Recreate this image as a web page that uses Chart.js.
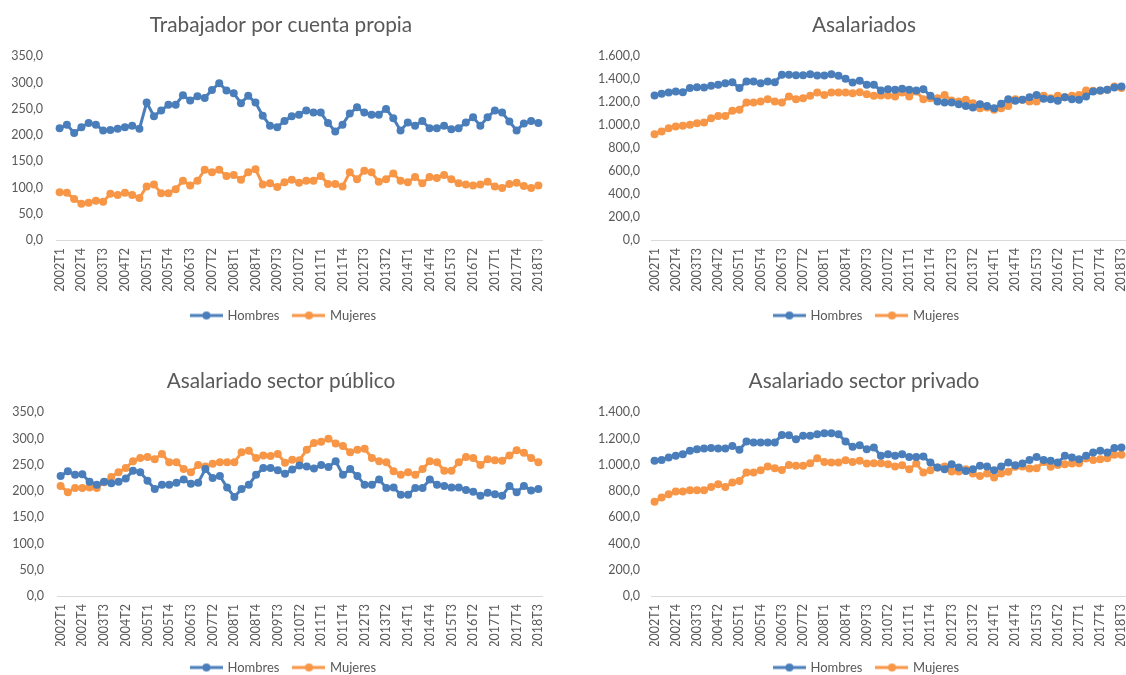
<!DOCTYPE html>
<html><head><meta charset="utf-8">
<script src="https://cdn.jsdelivr.net/npm/chart.js@4.4.0/dist/chart.umd.min.js"></script>
<style>
html,body{margin:0;padding:0;background:#fff;width:1126px;height:675px;overflow:hidden;position:relative}
.c{position:absolute;width:563px;height:337px}
</style></head><body>
<div class="c" style="left:0;top:0"><canvas id="c1" width="563" height="337"></canvas></div>
<div class="c" style="left:583px;top:0"><canvas id="c2" width="563" height="337"></canvas></div>
<div class="c" style="left:0;top:356px"><canvas id="c3" width="563" height="337"></canvas></div>
<div class="c" style="left:583px;top:356px"><canvas id="c4" width="563" height="337"></canvas></div>
<script>
const quarters = ["2002T1","2002T2","2002T3","2002T4","2003T1","2003T2","2003T3","2003T4","2004T1","2004T2","2004T3","2004T4","2005T1","2005T2","2005T3","2005T4","2006T1","2006T2","2006T3","2006T4","2007T1","2007T2","2007T3","2007T4","2008T1","2008T2","2008T3","2008T4","2009T1","2009T2","2009T3","2009T4","2010T1","2010T2","2010T3","2010T4","2011T1","2011T2","2011T3","2011T4","2012T1","2012T2","2012T3","2012T4","2013T1","2013T2","2013T3","2013T4","2014T1","2014T2","2014T3","2014T4","2015T1","2015T2","2015T3","2015T4","2016T1","2016T2","2016T3","2016T4","2017T1","2017T2","2017T3","2017T4","2018T1","2018T2","2018T3"];

const propiaHombres = [213,220,204,215,223,220,209,210,212,215,218,212,262,236,247,258,258,276,266,274,271,286,299,285,280,261,275,262,237,218,215,227,236,239,247,243,243,223,207,220,241,253,243,239,239,250,232,209,224,218,227,213,213,218,211,213,224,234,218,234,247,243,226,209,222,227,223];
const propiaMujeres = [91,90,78,69,71,75,73,88,86,90,86,80,102,106,89,89,97,113,104,113,134,129,134,122,124,115,129,135,106,108,101,110,115,109,113,113,122,107,107,102,129,116,132,129,111,116,127,113,110,120,108,120,118,124,116,108,106,104,106,111,102,99,107,109,103,99,104];

const asalHombres = [1260,1274,1286,1295,1289,1324,1332,1329,1344,1353,1367,1376,1324,1382,1382,1367,1382,1376,1440,1440,1437,1437,1446,1434,1434,1446,1431,1405,1373,1388,1353,1353,1303,1315,1309,1318,1309,1303,1315,1257,1207,1199,1199,1184,1169,1155,1184,1169,1149,1187,1228,1213,1222,1245,1265,1231,1228,1213,1245,1228,1222,1251,1295,1303,1309,1329,1338];
const asalMujeres = [922,945,975,989,995,1004,1018,1024,1062,1082,1082,1126,1135,1199,1199,1207,1228,1207,1199,1251,1228,1236,1257,1286,1265,1286,1286,1286,1280,1289,1271,1257,1260,1260,1251,1286,1251,1295,1228,1236,1236,1265,1216,1207,1222,1193,1149,1155,1135,1149,1169,1228,1222,1207,1207,1257,1236,1257,1245,1257,1265,1303,1300,1300,1309,1338,1324];

const publicoHombres = [229,238,231,232,218,212,218,215,218,224,239,236,220,204,212,212,216,222,214,216,242,225,229,207,189,204,212,231,244,244,240,233,241,249,247,243,250,246,257,231,242,229,212,212,222,206,207,193,193,206,206,222,212,210,207,207,202,199,191,197,194,191,210,198,210,201,204];
const publicoMujeres = [210,198,206,206,207,206,217,227,236,244,257,263,265,261,271,255,255,242,236,250,247,252,255,255,255,274,277,263,268,267,271,254,260,259,279,292,294,300,291,286,274,279,281,263,257,255,238,231,236,231,242,257,255,239,239,255,265,263,250,261,259,258,268,278,273,263,255];

const privadoHombres = [1031,1038,1056,1069,1082,1107,1120,1125,1128,1125,1125,1145,1115,1178,1171,1171,1171,1171,1229,1227,1196,1222,1222,1234,1242,1242,1234,1178,1138,1150,1120,1133,1069,1082,1069,1082,1061,1061,1064,1018,980,967,1005,980,954,967,993,988,960,988,1018,998,1010,1038,1061,1038,1031,1018,1069,1056,1044,1069,1094,1107,1094,1128,1133];
const privadoMujeres = [718,751,776,797,797,807,807,807,832,853,832,865,878,942,942,960,987,975,962,1000,993,993,1013,1051,1023,1018,1018,1036,1023,1031,1010,1013,1013,1005,988,998,967,1010,942,960,980,988,949,949,967,934,916,934,904,934,947,985,988,972,975,1023,985,1000,1005,1010,1013,1049,1038,1044,1051,1077,1077];

const seriesNames = ["Hombres","Mujeres"];
const BLUE = "#4A7EBB", ORANGE = "#F79646", TXT = "#595959";
const FONT = "Lato, 'Open Sans', sans-serif";

function fmt(v){
  const s = Number(v).toFixed(1);
  const parts = s.split('.');
  return parts[0].replace(/\B(?=(\d{3})+(?!\d))/g,'.') + ',' + parts[1];
}
function legendImg(color){
  const c = document.createElement('canvas');
  c.width = 33; c.height = 10;
  const x = c.getContext('2d');
  x.strokeStyle = color; x.lineWidth = 3;
  x.beginPath(); x.moveTo(0,5); x.lineTo(33,5); x.stroke();
  x.fillStyle = color;
  x.beginPath(); x.arc(16.5,5,4,0,Math.PI*2); x.fill();
  return c;
}
const legendImgs = [legendImg(BLUE), legendImg(ORANGE)];

const shiftPlugin = {
  id: 'shift',
  afterLayout(chart, args, opts){
    const t = chart.titleBlock;
    if (t) { t.left += opts.title; t.right += opts.title; }
    const l = chart.legend;
    if (l) { l.left += opts.legend; l.right += opts.legend; }
  }
};

function makeChart(id, title, men, women, max, step, yWidth, tickPad, xH, padB){
  new Chart(document.getElementById(id), {
    type: 'line',
    data: {
      labels: quarters,
      datasets: [
        {label: seriesNames[0], data: men, borderColor: BLUE, backgroundColor: BLUE, borderWidth: 3, pointRadius: 4, pointBackgroundColor: BLUE, pointBorderWidth: 0, tension: 0},
        {label: seriesNames[1], data: women, borderColor: ORANGE, backgroundColor: ORANGE, borderWidth: 3, pointRadius: 4, pointBackgroundColor: ORANGE, pointBorderWidth: 0, tension: 0}
      ]
    },
    plugins: [shiftPlugin],
    options: {
      responsive: false,
      animation: false,
      layout: {padding: {left: 0, right: 21, top: 0, bottom: padB}},
      plugins: {
        shift: {title: 10, legend: 13},
        title: {display: true, text: title, color: TXT, font: {family: FONT, size: 20.8, weight: 'normal'}, padding: {top: 13, bottom: 18.5}},
        legend: {
          position: 'bottom',
          labels: {
            color: TXT, font: {family: FONT, size: 13}, usePointStyle: true, pointStyleWidth: 29, padding: 15,
            generateLabels(chart){
              const items = Chart.defaults.plugins.legend.labels.generateLabels(chart);
              items.forEach((it,i)=>{ it.pointStyle = legendImgs[i]; });
              return items;
            }
          }
        },
        tooltip: {enabled: false}
      },
      scales: {
        x: {
          offset: true,
          grid: {display: false, drawTicks: false},
          border: {display: true, color: '#D9D9D9', width: 1},
          ticks: {
            autoSkip: false, maxRotation: 90, minRotation: 90, padding: 8, color: TXT,
            font: {family: FONT, size: 12.5},
            callback(v, i){ return i % 3 === 0 ? quarters[i] : ''; }
          },
          afterFit(s){ s.paddingLeft = 0; s.paddingRight = 0; s.height = xH; }
        },
        y: {
          min: 0, max: max,
          grid: {display: false, drawTicks: false},
          border: {display: false},
          ticks: {stepSize: step, padding: tickPad, color: TXT, font: {family: FONT, size: 12.5}, callback: v => fmt(v)},
          afterFit(s){ s.width = yWidth; }
        }
      }
    }
  });
}

makeChart('c1', 'Trabajador por cuenta propia', propiaHombres, propiaMujeres, 350, 50, 56, 13, 54, 5);
makeChart('c2', 'Asalariados', asalHombres, asalMujeres, 1600, 200, 68, 11, 54, 5);
makeChart('c3', 'Asalariado sector público', publicoHombres, publicoMujeres, 350, 50, 57, 13, 50, 9);
makeChart('c4', 'Asalariado sector privado', privadoHombres, privadoMujeres, 1400, 200, 68, 11, 50, 9);
</script>
</body></html>
